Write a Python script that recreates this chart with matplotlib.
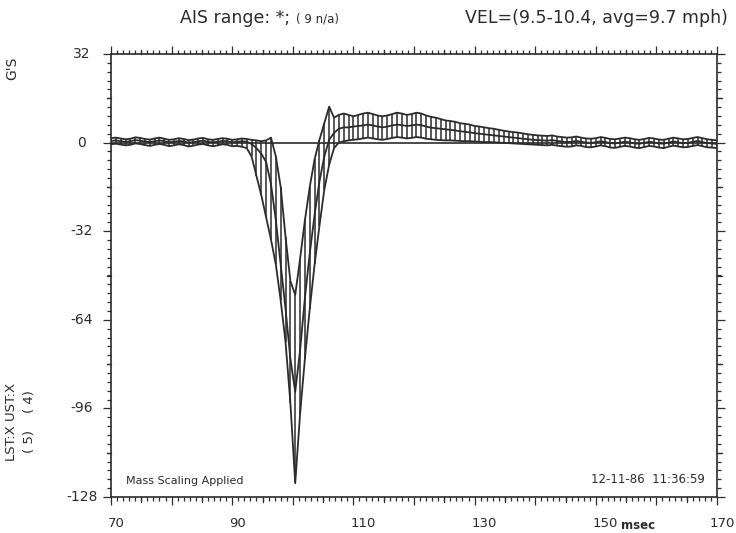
import numpy as np
import matplotlib
matplotlib.use("Agg")
import matplotlib.pyplot as plt
from matplotlib.ticker import MultipleLocator

plt.rcParams['font.family'] = ['DejaVu Sans']
plt.rcParams['axes.unicode_minus'] = False

INK = '#2b2b2b'

#-------------corridor data (msec, G's)------------

time_ms = [
    70.0, 70.8, 71.6, 72.4, 73.2, 74.0, 74.8, 75.6, 76.4, 77.2,
    78.0, 78.8, 79.6, 80.4, 81.2, 82.0, 82.8, 83.6, 84.4, 85.2,
    86.0, 86.8, 87.6, 88.4, 89.2, 90.0, 90.8, 91.6, 92.4, 93.2,
    94.0, 94.8, 95.6, 96.4, 97.2, 98.0, 98.8, 99.6, 100.4, 101.2,
    102.0, 102.8, 103.6, 104.4, 105.2, 106.0, 106.8, 107.6, 108.4, 109.2,
    110.0, 110.8, 111.6, 112.4, 113.2, 114.0, 114.8, 115.6, 116.4, 117.2,
    118.0, 118.8, 119.6, 120.4, 121.2, 122.0, 122.8, 123.6, 124.4, 125.2,
    126.0, 126.8, 127.6, 128.4, 129.2, 130.0, 130.8, 131.6, 132.4, 133.2,
    134.0, 134.8, 135.6, 136.4, 137.2, 138.0, 138.8, 139.6, 140.4, 141.2,
    142.0, 142.8, 143.6, 144.4, 145.2, 146.0, 146.8, 147.6, 148.4, 149.2,
    150.0, 150.8, 151.6, 152.4, 153.2, 154.0, 154.8, 155.6, 156.4, 157.2,
    158.0, 158.8, 159.6, 160.4, 161.2, 162.0, 162.8, 163.6, 164.4, 165.2,
    166.0, 166.8, 167.6, 168.4, 169.2, 170.0,
]

upper = [
    1.6, 1.8, 1.5, 1.2, 1.4, 1.9, 1.7, 1.3, 1.1, 1.5,
    1.8, 1.4, 1.0, 1.2, 1.6, 1.3, 0.9, 1.1, 1.5, 1.7,
    1.2, 1.0, 1.3, 1.6, 1.4, 1.0, 1.2, 1.5, 1.3,
    1.0, 0.8, 0.5, 0.8, 1.8, -5, -16, -34, -50, -55,
    -42, -28, -16, -6, 1, 7, 13, 9, 10, 10.5, 10, 9.5,
    10, 10.5, 10.8, 10.3, 9.8, 9.5, 9.8, 10.3, 10.8, 10.5,
    10, 10.3, 10.8, 10.5, 9.8, 9.3, 9, 8.5,
    8, 7.8, 7.5, 7, 6.8, 6.5, 6.0, 5.8, 5.5, 5.2,
    5.0, 4.6, 4.3, 4.0, 3.8, 3.6, 3.3, 3.0, 2.8, 2.6,
    2.5, 2.4, 2.6, 2.2, 2.0, 1.8, 1.9, 2.2, 1.8, 1.5,
    1.4, 1.6, 2.0, 1.7, 1.3, 1.2, 1.5, 1.8, 1.6, 1.2,
    1.0, 1.3, 1.7, 1.5, 1.1, 1.0, 1.4, 1.8, 1.5, 1.2,
    1.3, 1.7, 2.0, 1.6, 1.2, 1.0, 0.8,
]

mean = [
    0.6, 0.8, 0.5, 0.3, 0.5, 0.9, 0.7, 0.4, 0.2, 0.5,
    0.8, 0.5, 0.1, 0.3, 0.6, 0.4, 0.0, 0.2, 0.5, 0.7,
    0.3, 0.1, 0.3, 0.6, 0.5, 0.1, 0.3, 0.5, 0.3,
    -0.5, -2, -4, -7, -15, -28, -44, -60, -78, -90,
    -75, -56, -40, -26, -14, -5, 1, 3.5, 5, 5.5, 5.5, 5.8,
    6, 6.2, 6.5, 6.2, 5.8, 5.5, 5.8, 6.2, 6.5, 6.3,
    6, 6.2, 6.5, 6.3, 5.8, 5.4, 5.2, 5.0,
    4.8, 4.6, 4.4, 4.1, 3.9, 3.7, 3.4, 3.2, 3.0, 2.8,
    2.6, 2.4, 2.2, 2.0, 1.8, 1.6, 1.4, 1.2, 1.0, 0.9,
    0.8, 0.7, 0.9, 0.6, 0.4, 0.2, 0.3, 0.6, 0.3, 0.0,
    -0.1, 0.1, 0.5, 0.2, -0.2, -0.3, 0.0, 0.3, 0.1, -0.3,
    -0.4, -0.1, 0.3, 0.1, -0.3, -0.4, 0.0, 0.4, 0.1, -0.2,
    -0.1, 0.3, 0.6, 0.2, -0.2, -0.3, -0.5,
]

lower = [
    -0.6, -0.4, -0.7, -1.0, -0.8, -0.3, -0.5, -0.9, -1.2, -0.8,
    -0.5, -0.8, -1.3, -1.0, -0.6, -0.9, -1.4, -1.1, -0.7, -0.5,
    -1.0, -1.3, -1.0, -0.6, -0.8, -1.3, -1.2, -1.5, -2.0,
    -5, -12, -19, -27, -35, -44, -57, -72, -94, -123,
    -98, -78, -60, -44, -30, -17, -8, -2, 0, 0.5, 0.8, 1.0,
    1.2, 1.5, 1.8, 1.5, 1.2, 1.0, 1.3, 1.7, 2.0, 1.8,
    1.5, 1.7, 2.0, 1.8, 1.4, 1.2, 1.0, 0.9,
    0.8, 0.8, 0.7, 0.6, 0.5, 0.5, 0.4, 0.3, 0.2, 0.2,
    0.1, 0.0, -0.1, -0.2, -0.3, -0.4, -0.5, -0.6, -0.7, -0.8,
    -0.9, -1.0, -0.8, -1.1, -1.3, -1.5, -1.4, -1.0, -1.2, -1.6,
    -1.7, -1.4, -1.0, -1.3, -1.8, -1.9, -1.5, -1.2, -1.4, -1.8,
    -2.0, -1.6, -1.2, -1.4, -1.8, -2.0, -1.5, -1.1, -1.4, -1.7,
    -1.6, -1.2, -0.9, -1.3, -1.7, -1.8, -2.0,
]

x_labels = ['70', '90', '110', '130', '150', '170']
x_label_pos = [70, 90, 110, 130, 150, 170]
y_labels = ['32', '0', '-32', '-64', '-96', '-128']
y_label_pos = [32, 0, -32, -64, -96, -128]

#-------------figure------------------

fig = plt.figure(figsize=(7.36, 5.33), dpi=100)
ax = fig.add_axes([111/736, 1 - 497/533, (717 - 111)/736, (497 - 54)/533])

# hatching between the corridor bounds
ax.vlines(time_ms, lower, upper, colors=INK, linewidth=1.1)
ax.plot(time_ms, upper, color=INK, linewidth=1.3)
ax.plot(time_ms, mean, color=INK, linewidth=1.3)
ax.plot(time_ms, lower, color=INK, linewidth=1.3)
ax.axhline(0, color=INK, linewidth=1.2)

ax.set_xlim(70, 170)
ax.set_ylim(-128, 32)

for s in ax.spines.values():
    s.set_color(INK)
    s.set_linewidth(1.2)

# ticks
ax.xaxis.set_major_locator(MultipleLocator(10))
ax.xaxis.set_minor_locator(MultipleLocator(1))
ax.yaxis.set_major_locator(MultipleLocator(32))
ax.yaxis.set_minor_locator(MultipleLocator(3.2))
ax.tick_params(which='both', top=True, right=True, direction='out',
               color=INK, width=0.9, labelbottom=False, labelleft=False)
ax.tick_params(which='major', length=6)
ax.tick_params(which='minor', length=3)

# medium ticks at every 5 msec / 16 G
xt = ax.get_xaxis_transform()
yt = ax.get_yaxis_transform()
for x in range(75, 170, 10):
    ax.plot([x, x], [1, 1 + 4.5/443], transform=xt, color=INK, lw=0.9, clip_on=False)
    ax.plot([x, x], [0, -4.5/443], transform=xt, color=INK, lw=0.9, clip_on=False)
for y in [16, -16, -48, -80, -112]:
    ax.plot([0, -4.5/606], [y, y], transform=yt, color=INK, lw=0.9, clip_on=False)
    ax.plot([1, 1 + 4.5/606], [y, y], transform=yt, color=INK, lw=0.9, clip_on=False)

# tick labels (the last one is pulled in so it stays on the page)
for x, lab in zip(x_label_pos, x_labels):
    xx = min(x - 0.5, 168.7)
    ax.text(xx, -0.045, lab, transform=xt, ha='left', va='top',
            fontsize=9.5, color=INK)
for y, lab in zip(y_label_pos, y_labels):
    ax.text(-0.048, y, lab, transform=yt, ha='center', va='center',
            fontsize=10, color=INK)

ax.text(157, -0.05, 'msec', transform=xt, ha='center', va='top',
        fontsize=8.5, color=INK, fontweight='bold')

# annotations
ax.text(0.024, 0.025, 'Mass Scaling Applied', transform=ax.transAxes,
        fontsize=8, color=INK, ha='left', va='bottom')
ax.text(0.98, 0.025, '12-11-86  11:36:59', transform=ax.transAxes,
        fontsize=8.5, color=INK, ha='right', va='bottom')

fig.text(180/736, 1 - 18/533, 'AIS range: *;', fontsize=12.5, color=INK,
         ha='left', va='center')
fig.text(296/736, 1 - 19/533, '( 9 n/a)', fontsize=8.5, color=INK,
         ha='left', va='center')
fig.text(728/736, 1 - 18/533, 'VEL=(9.5-10.4, avg=9.7 mph)', fontsize=12.5,
         color=INK, ha='right', va='center')

fig.text(12/736, 1 - 68/533, "G'S", fontsize=10, color=INK, rotation=90,
         ha='center', va='center')
fig.text(12/736, 1 - 422/533, 'LST:X UST:X', fontsize=9.5, color=INK,
         rotation=90, ha='center', va='center')
fig.text(30/736, 1 - 422/533, '( 5)    ( 4)', fontsize=9.5, color=INK,
         rotation=90, ha='center', va='center')

fig.savefig('out.png', dpi=100, facecolor='white')
